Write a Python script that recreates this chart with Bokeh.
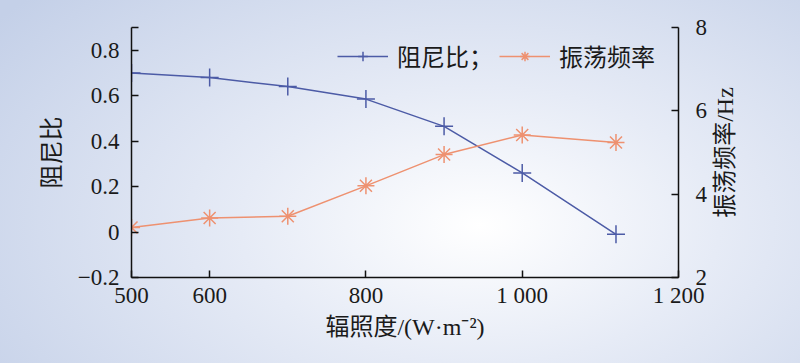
import math
from bokeh.plotting import figure
from bokeh.models import Range1d, LinearAxis, FixedTicker, Legend, LegendItem, Label
from bokeh.embed import file_html
from bokeh.resources import INLINE

# ---- data ----
irradiance = [500, 600, 700, 800, 900, 1000, 1120]
damping = [0.70, 0.68, 0.64, 0.585, 0.465, 0.26, -0.01]
frequency = [3.2, 3.43, 3.47, 4.2, 4.95, 5.42, 5.24]

x_ticks = [500, 600, 800, 1000, 1200]
x_tick_labels = ["500", "600", "800", "1 000", "1 200"]
left_ticks = [-0.2, 0, 0.2, 0.4, 0.6, 0.8, 0.9]
left_tick_labels = ["\u22120.2", "0", "0.2", "0.4", "0.6", "0.8", ""]
right_ticks = [2, 4, 6, 8]
right_tick_labels = ["2", "4", "6", "8"]

BLUE = "#4c5ba6"
ORANGE = "#ee9170"
FONT = "Liberation Serif, Noto Sans CJK SC"
TXT = "#1a1a1a"

p = figure(width=800, height=363, output_backend="svg", toolbar_location=None,
           x_range=Range1d(500, 1200), y_range=Range1d(-0.2, 0.9),
           min_border_left=131, min_border_right=122, min_border_top=27, min_border_bottom=86)
p.extra_y_ranges = {"freq": Range1d(2, 8)}

p.styles = {"background": "radial-gradient(ellipse 75% 95% at 60% 62%, #ffffff 0%, #e6ebf6 40%, #c4d0e8 100%)"}
p.border_fill_color = None
p.background_fill_color = None
p.outline_line_color = None
p.grid.visible = False

def style_axis(ax):
    ax.axis_line_color = "#111111"
    ax.axis_line_width = 1.5
    ax.major_tick_line_color = "#111111"
    ax.major_tick_line_width = 1.5
    ax.major_tick_in = 7
    ax.major_tick_out = 0
    ax.minor_tick_line_color = None
    ax.major_label_text_font = FONT
    ax.major_label_text_font_size = "23px"
    ax.major_label_text_color = TXT
    ax.axis_label_text_font = FONT
    ax.axis_label_text_font_size = "24px"
    ax.axis_label_text_font_style = "normal"
    ax.axis_label_text_color = TXT

xa = p.xaxis[0]
style_axis(xa)
xa.ticker = FixedTicker(ticks=x_ticks)
xa.major_label_overrides = dict(zip(x_ticks, x_tick_labels))
xa.major_label_standoff = 5
xa.axis_label = "辐照度/(W·m⁻²)"
xa.axis_label_standoff = 3

ya = p.yaxis[0]
style_axis(ya)
ya.ticker = FixedTicker(ticks=left_ticks)
ya.major_label_overrides = dict(zip(left_ticks, left_tick_labels))
ya.major_label_standoff = 12
ya.axis_label = "阻尼比"
ya.axis_label_standoff = 10

ra = LinearAxis(y_range_name="freq")
style_axis(ra)
ra.ticker = FixedTicker(ticks=right_ticks)
ra.major_label_overrides = dict(zip(right_ticks, right_tick_labels))
ra.major_label_standoff = 17
p.add_layout(ra, "right")

# right-hand axis title, reading bottom-to-top, drawn in the right side panel
right_title = Label(x=724, y=152, x_units="canvas", y_units="canvas",
                    text="振荡频率/Hz", angle=math.pi / 2, text_align="center", text_baseline="middle",
                    text_font=FONT, text_font_size="24px", text_color=TXT)
p.add_layout(right_title, "right")

l1 = p.line(irradiance, damping, line_color=BLUE, line_width=1.5)
m1 = p.scatter(irradiance, damping, marker="cross", size=18, line_color=BLUE, line_width=1.5)
l2 = p.line(irradiance, frequency, line_color=ORANGE, line_width=1.5, y_range_name="freq")
m2 = p.scatter(irradiance, frequency, marker="asterisk", size=17, line_color=ORANGE, line_width=1.5,
               y_range_name="freq")

legend = Legend(items=[LegendItem(label="阻尼比；", renderers=[l1, m1]),
                       LegendItem(label="振荡频率", renderers=[l2, m2])],
                orientation="horizontal", location=(206, 204),
                background_fill_alpha=0, border_line_color=None,
                label_text_font=FONT, label_text_font_size="24px", label_text_color=TXT,
                glyph_width=51, glyph_height=24, label_standoff=9, spacing=6,
                padding=0, margin=0)
p.add_layout(legend, "center")

html = file_html(p, INLINE)
html = html.replace("<body>", '<body style="background:#c6d1e9;">', 1)
open("out.html", "w").write(html)
